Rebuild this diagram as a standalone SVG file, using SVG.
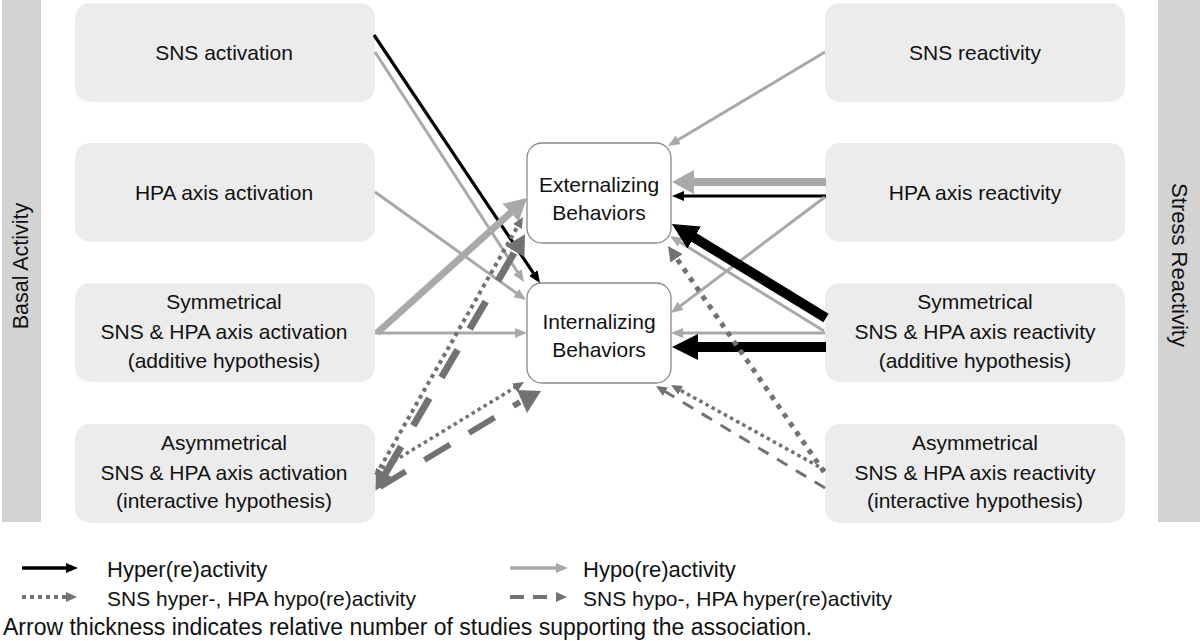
<svg xmlns="http://www.w3.org/2000/svg" width="1200" height="641" viewBox="0 0 1200 641">
<style>
  .t{font-family:"Liberation Sans",Arial,sans-serif;font-size:21px;fill:#111;}
  .c{text-anchor:middle;}
  .box{fill:#ececec;}
  .side{fill:#d3d3d3;}
  .ctr{fill:#fff;stroke:#8a8a8a;stroke-width:1.3;}
  .blk{stroke:#000;fill:none;}
  .gry{stroke:#a9a9a9;fill:none;}
  .drk{stroke:#727272;fill:none;}
</style>
<defs>
  <marker id="bs" markerUnits="userSpaceOnUse" markerWidth="12" markerHeight="10" refX="1" refY="5" orient="auto"><path d="M0,0 L12,5 L0,10 z" fill="#000"/></marker>
  <marker id="bl" markerUnits="userSpaceOnUse" markerWidth="26" markerHeight="26" refX="1" refY="13" orient="auto"><path d="M0,0 L26,13 L0,26 z" fill="#000"/></marker>
  <marker id="gs" markerUnits="userSpaceOnUse" markerWidth="12" markerHeight="10" refX="1" refY="5" orient="auto"><path d="M0,0 L12,5 L0,10 z" fill="#a9a9a9"/></marker>
  <marker id="gl" markerUnits="userSpaceOnUse" markerWidth="22" markerHeight="24" refX="1" refY="12" orient="auto"><path d="M0,0 L22,12 L0,24 z" fill="#a9a9a9"/></marker>
  <marker id="ds" markerUnits="userSpaceOnUse" markerWidth="11" markerHeight="10" refX="1" refY="5" orient="auto"><path d="M0,0 L11,5 L0,10 z" fill="#727272"/></marker>
  <marker id="dm" markerUnits="userSpaceOnUse" markerWidth="15" markerHeight="15" refX="1" refY="7.5" orient="auto"><path d="M0,0 L15,7.5 L0,15 z" fill="#727272"/></marker>
  <marker id="dl" markerUnits="userSpaceOnUse" markerWidth="20" markerHeight="22" refX="1" refY="11" orient="auto-start-reverse"><path d="M0,0 L20,11 L0,22 z" fill="#727272"/></marker>
</defs>

<g id="sidebar-basal">
  <rect class="side" x="2" y="0" width="39" height="522"/>
  <text class="t c" transform="translate(28,266) rotate(-90)" style="font-size:21.5px">Basal Activity</text>
</g>
<g id="sidebar-stress">
  <rect class="side" x="1158" y="0" width="42" height="522"/>
  <text class="t c" transform="translate(1172,265) rotate(90)" style="font-size:22px">Stress Reactivity</text>
</g>

<g id="sns-activation">
  <rect class="box" x="75" y="3" width="300" height="99" rx="15"/>
  <text class="t c" x="224" y="60">SNS activation</text>
</g>
<g id="hpa-activation">
  <rect class="box" x="75" y="143" width="300" height="99" rx="15"/>
  <text class="t c" x="224" y="200">HPA axis activation</text>
</g>
<g id="sym-activation">
  <rect class="box" x="75" y="283" width="300" height="99" rx="15"/>
  <text class="t c" x="224" y="309">Symmetrical</text>
  <text class="t c" x="224" y="339">SNS &amp; HPA axis activation</text>
  <text class="t c" x="224" y="368">(additive hypothesis)</text>
</g>
<g id="asym-activation">
  <rect class="box" x="75" y="424" width="300" height="99" rx="15"/>
  <text class="t c" x="224" y="450">Asymmetrical</text>
  <text class="t c" x="224" y="480">SNS &amp; HPA axis activation</text>
  <text class="t c" x="224" y="508">(interactive hypothesis)</text>
</g>

<g id="sns-reactivity">
  <rect class="box" x="825" y="3" width="300" height="99" rx="15"/>
  <text class="t c" x="975" y="60">SNS reactivity</text>
</g>
<g id="hpa-reactivity">
  <rect class="box" x="825" y="143" width="300" height="99" rx="15"/>
  <text class="t c" x="975" y="200">HPA axis reactivity</text>
</g>
<g id="sym-reactivity">
  <rect class="box" x="825" y="283" width="300" height="99" rx="15"/>
  <text class="t c" x="975" y="309">Symmetrical</text>
  <text class="t c" x="975" y="339">SNS &amp; HPA axis reactivity</text>
  <text class="t c" x="975" y="368">(additive hypothesis)</text>
</g>
<g id="asym-reactivity">
  <rect class="box" x="825" y="424" width="300" height="99" rx="15"/>
  <text class="t c" x="975" y="450">Asymmetrical</text>
  <text class="t c" x="975" y="480">SNS &amp; HPA axis reactivity</text>
  <text class="t c" x="975" y="508">(interactive hypothesis)</text>
</g>

<g id="externalizing">
  <rect class="ctr" x="527" y="143" width="144" height="100" rx="15"/>
  <text class="t c" x="599" y="192">Externalizing</text>
  <text class="t c" x="599" y="220">Behaviors</text>
</g>
<g id="internalizing">
  <rect class="ctr" x="527" y="283" width="144" height="100" rx="15"/>
  <text class="t c" x="599" y="329">Internalizing</text>
  <text class="t c" x="599" y="357">Behaviors</text>
</g>

<g id="connectors">
  <!-- left side -->
  <line class="gry" x1="375" y1="52" x2="518" y2="272.8" stroke-width="3" marker-end="url(#gs)"/>
  <line class="blk" x1="374" y1="35" x2="533.9" y2="273.9" stroke-width="3.2" marker-end="url(#bs)"/>
  <line class="gry" x1="375" y1="192" x2="517.1" y2="293.6" stroke-width="3" marker-end="url(#gs)"/>
  <line class="gry" x1="377" y1="333" x2="511.4" y2="212" stroke-width="7" marker-end="url(#gl)"/>
  <line class="gry" x1="375" y1="333" x2="516" y2="333" stroke-width="3" marker-end="url(#gs)"/>
  <line class="drk" x1="376" y1="475" x2="518" y2="225.7" stroke-width="4" stroke-dasharray="4 4" marker-end="url(#ds)"/>
  <line class="drk" x1="385" y1="474.2" x2="515.4" y2="250.7" stroke-width="7" stroke-dasharray="32 24" marker-start="url(#dl)" marker-end="url(#dl)"/>
  <line class="drk" x1="376" y1="472" x2="515.5" y2="387.2" stroke-width="3.5" stroke-dasharray="3.5 3.5" marker-end="url(#ds)"/>
  <line class="drk" x1="380" y1="487" x2="520" y2="402" stroke-width="6" stroke-dasharray="30 22"/>
  <polygon points="517,390 541,391 527,413" fill="#727272"/>
  <!-- right side -->
  <line class="gry" x1="825" y1="52" x2="677.4" y2="140.3" stroke-width="3" marker-end="url(#gs)"/>
  <line class="gry" x1="826" y1="182" x2="693" y2="182" stroke-width="8" marker-end="url(#gl)"/>
  <line class="blk" x1="826" y1="196" x2="683" y2="196" stroke-width="3.2" marker-end="url(#bs)"/>
  <line class="gry" x1="825" y1="197" x2="679.8" y2="306.4" stroke-width="3" marker-end="url(#gs)"/>
  <line class="gry" x1="824" y1="331" x2="679.4" y2="241.8" stroke-width="3" marker-end="url(#gs)"/>
  <line class="blk" x1="826" y1="318" x2="693.3" y2="237" stroke-width="10" marker-end="url(#bl)"/>
  <line class="gry" x1="825" y1="333" x2="682" y2="333" stroke-width="3" marker-end="url(#gs)"/>
  <line class="blk" x1="826" y1="347" x2="697" y2="347" stroke-width="10" marker-end="url(#bl)"/>
  <line class="drk" x1="824" y1="472" x2="676" y2="257.5" stroke-width="5" stroke-dasharray="5 6" marker-end="url(#dm)"/>
  <line class="drk" x1="825" y1="470" x2="679.8" y2="389.8" stroke-width="3.5" stroke-dasharray="3.5 3.5" marker-end="url(#ds)"/>
  <line class="drk" x1="825" y1="488" x2="664.6" y2="391.2" stroke-width="3" stroke-dasharray="12 10" marker-end="url(#ds)"/>
</g>

<g id="legend">
  <line class="blk" x1="22" y1="568" x2="67" y2="568" stroke-width="3.5" marker-end="url(#bs)"/>
  <text class="t" x="107" y="577" style="font-size:22px">Hyper(re)activity</text>
  <line class="drk" x1="22" y1="597" x2="67" y2="597" stroke-width="4" stroke-dasharray="4 4" marker-end="url(#ds)"/>
  <text class="t" x="107" y="606">SNS hyper-, HPA hypo(re)activity</text>
  <line class="gry" x1="510" y1="568" x2="557" y2="568" stroke-width="3.5" marker-end="url(#gs)"/>
  <text class="t" x="583" y="577" style="font-size:22px">Hypo(re)activity</text>
  <line class="drk" x1="510" y1="597" x2="557" y2="597" stroke-width="4" stroke-dasharray="14 9" marker-end="url(#ds)"/>
  <text class="t" x="583" y="606">SNS hypo-, HPA hyper(re)activity</text>
  <text class="t" x="3" y="635" style="font-size:23px">Arrow thickness indicates relative number of studies supporting the association.</text>
</g>
</svg>
